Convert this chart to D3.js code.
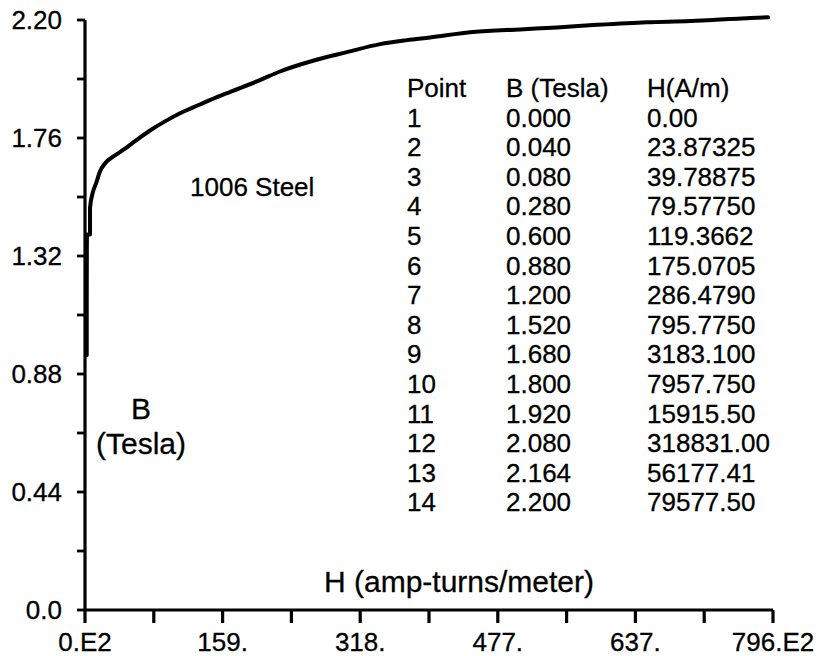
<!DOCTYPE html>
<html>
<head>
<meta charset="utf-8">
<script src="https://cdn.jsdelivr.net/npm/d3@7"></script>
<style>
  html, body { margin: 0; padding: 0; background: #fff; }
  svg { display: block; }
  text { font-family: "Liberation Sans", Arial, Helvetica, sans-serif; fill: #000; stroke: #000; stroke-width: 0.3px; }
</style>
</head>
<body>
<svg id="chart" width="822" height="656"></svg>
<script>
// ---- data (H in units of 1E2 A/m, B in Tesla) ----
const curveH = [2.0, 2.0, 2.3, 5.8, 5.8, 9.3, 12.7, 17.3, 23.1, 34.7, 46.3, 57.8, 75.2, 92.5, 109.9, 133.0, 156.1, 179.3, 202.4, 225.5, 263.7, 303.0, 341.2, 372.4, 399.0, 448.8, 503.1, 545.9, 592.2, 650.0, 700, 726, 745, 770, 790];
const curveB = [0.95, 1.15, 1.40, 1.40, 1.50, 1.56, 1.59, 1.635, 1.665, 1.695, 1.72, 1.748, 1.788, 1.822, 1.852, 1.885, 1.917, 1.946, 1.976, 2.008, 2.048, 2.08, 2.11, 2.125, 2.135, 2.155, 2.165, 2.172, 2.182, 2.192, 2.196, 2.20, 2.204, 2.207, 2.21];

const xTickValues = [0, 159.155, 318.31, 477.465, 636.62, 795.775];
const xTickLabels = ["0.E2", "159.", "318.", "477.", "637.", "796.E2"];
const yTickValues = [0, 0.44, 0.88, 1.32, 1.76, 2.20];
const yTickLabels = ["0.0", "0.44", "0.88", "1.32", "1.76", "2.20"];

const tableHeader = ["Point", "B (Tesla)", "H(A/m)"];
const tablePoint = ["1","2","3","4","5","6","7","8","9","10","11","12","13","14"];
const tableB = ["0.000","0.040","0.080","0.280","0.600","0.880","1.200","1.520","1.680","1.800","1.920","2.080","2.164","2.200"];
const tableH = ["0.00","23.87325","39.78875","79.57750","119.3662","175.0705","286.4790","795.7750","3183.100","7957.750","15915.50","318831.00","56177.41","79577.50"];

const materialLabel = "1006 Steel";
const xTitle = "H (amp-turns/meter)";
const yTitle = ["B", "(Tesla)"];

// ---- layout ----
const svg = d3.select("#chart");
const x = d3.scaleLinear().domain([0, 795.775]).range([85, 773]);
const y = d3.scaleLinear().domain([0, 2.2]).range([610, 20]);

// minor ticks midway
const xMinor = d3.range(xTickValues.length - 1).map(i => (xTickValues[i] + xTickValues[i + 1]) / 2);
const yMinor = d3.range(yTickValues.length - 1).map(i => (yTickValues[i] + yTickValues[i + 1]) / 2);

// X axis
const gx = svg.append("g");
gx.append("line").attr("x1", x(0)).attr("x2", x(795.775)).attr("y1", y(0)).attr("y2", y(0))
  .attr("stroke", "#000").attr("stroke-width", 3.2);
gx.selectAll("line.t").data(xTickValues.concat(xMinor)).join("line").attr("class", "t")
  .attr("x1", d => x(d)).attr("x2", d => x(d)).attr("y1", y(0)).attr("y2", y(0) + 13)
  .attr("stroke", "#000").attr("stroke-width", 3.2);
gx.selectAll("text").data(xTickValues).join("text")
  .attr("x", d => x(d)).attr("y", 651).attr("text-anchor", "middle")
  .attr("font-size", 26).text((d, i) => xTickLabels[i]);

// Y axis
const gy = svg.append("g");
gy.append("line").attr("x1", x(0)).attr("x2", x(0)).attr("y1", y(0) + 1.6).attr("y2", y(2.2))
  .attr("stroke", "#000").attr("stroke-width", 3.2);
gy.selectAll("line.t").data(yTickValues.concat(yMinor)).join("line").attr("class", "t")
  .attr("x1", x(0) - 8).attr("x2", x(0)).attr("y1", d => y(d)).attr("y2", d => y(d))
  .attr("stroke", "#000").attr("stroke-width", 2.8);
gy.selectAll("text").data(yTickValues).join("text")
  .attr("x", 62).attr("y", d => y(d)).attr("dy", "0.35em").attr("text-anchor", "end")
  .attr("font-size", 26).text((d, i) => yTickLabels[i]);

// Curve
const pts = curveH.map((h, i) => [h, curveB[i]]);
svg.append("path").datum(pts)
  .attr("d", d3.line().x(d => x(d[0])).y(d => y(d[1])).curve(d3.curveMonotoneX))
  .attr("fill", "none").attr("stroke", "#000").attr("stroke-width", 4)
  .attr("stroke-linejoin", "round").attr("stroke-linecap", "round");

// Labels
svg.append("text").attr("x", 190).attr("y", 196).attr("font-size", 26).text(materialLabel);
svg.append("text").attr("x", 459).attr("y", 592).attr("text-anchor", "middle").attr("font-size", 30).text(xTitle);
svg.append("text").attr("x", 141).attr("y", 419).attr("text-anchor", "middle").attr("font-size", 30).text(yTitle[0]);
svg.append("text").attr("x", 141).attr("y", 454).attr("text-anchor", "middle").attr("font-size", 30).text(yTitle[1]);

// Table
const colX = [407, 506, 647];
const rowY0 = 97, rowStep = 29.6;
const gt = svg.append("g");
tableHeader.forEach((h, j) => gt.append("text").attr("x", colX[j]).attr("y", rowY0).attr("font-size", 26).text(h));
tablePoint.forEach((p, i) => {
  const yy = rowY0 + (i + 1) * rowStep;
  [p, tableB[i], tableH[i]].forEach((v, j) =>
    gt.append("text").attr("x", colX[j]).attr("y", yy).attr("font-size", 26).text(v));
});
</script>
</body>
</html>
